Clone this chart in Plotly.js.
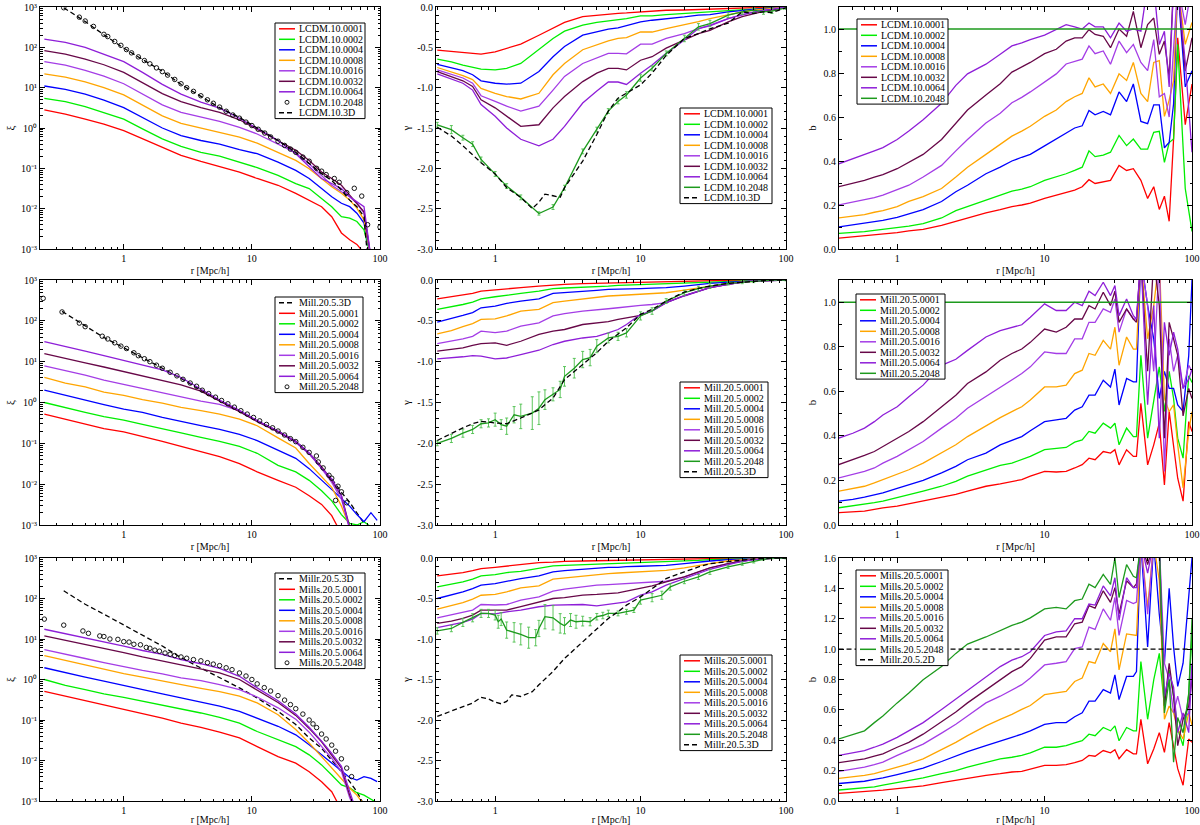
<!DOCTYPE html>
<html>
<head>
<meta charset="utf-8">
<script src="https://cdn.plot.ly/plotly-3.0.1.min.js"></script>
<style>
  body{margin:0;background:#fff}
  #chart{width:1200px;height:825px}
</style>
</head>
<body>
<div id="chart"></div>
<script>
"use strict"

// ---------- radial bins ----------
const rXi = [0.24,0.35,0.5,0.7,1,1.4,2,2.8,4,5.6,8,11,16,22,28,35,42,50,58,66,75,85,95]
const rGam = [0.4,0.5,0.6,0.7,0.8,1,1.2,1.5,2,2.5,3,4,5,6,7,8,10,12,15,20,25,30,40,50,60,70,80,100]
const rB = [0.4,0.5,0.6,0.7,0.8,1,1.2,1.5,2,2.5,3,4,5,6,7,8,10,12,14,16,18,20,22,25,28,32,36,40,45,50,55,60,65,70,75,80,90,100]
const rB6 = [0.4,0.5,0.6,0.7,0.8,1,1.2,1.5,2,2.5,3,4,5,6,7,8,10,12,14,16,18,20,22,25,28,30,32,36,40,42,45,50,55,60,65,70,75,80,87,95,100]
const rFlat = [0.4,100]

// ---------- LCDM.10 : xi ----------
const xiL_0001 = [2.8,2.2,1.66,1.25,0.86,0.54,0.32,0.21,0.149,0.112,0.081,0.056,0.038,0.024,0.0163,0.0112,0.0063,0.0025,0.0017,0.0013,0.0008]
const xiL_0002 = [5.4,4.5,3.4,2.43,1.66,0.95,0.54,0.35,0.25,0.2,0.143,0.104,0.067,0.042,0.0315,0.018,0.0112,0.0063,0.0058,0.0048,0.003,0.0006]
const xiL_0004 = [11,9.1,6.9,4.9,3.2,1.83,1.0,0.65,0.49,0.4,0.29,0.23,0.143,0.089,0.056,0.0315,0.0198,0.0136,0.0112,0.0077,0.0044,0.0006]
const xiL_0008 = [22,18.3,14,10,6.6,3.75,2.0,1.3,1.0,0.78,0.59,0.42,0.25,0.157,0.098,0.056,0.035,0.024,0.0163,0.0103,0.0053,0.0006]
const xiL_0016 = [44,36,27,19.4,12.5,7.1,3.75,2.43,1.83,1.46,1.04,0.71,0.4,0.24,0.13,0.067,0.038,0.0263,0.0198,0.0136,0.0077,0.0006]
const xiL_0032 = [83,68,51,37,24,13.2,7.1,4.5,3.2,2.43,1.6,0.92,0.49,0.28,0.157,0.081,0.056,0.038,0.0216,0.0136,0.0084,0.0006]
const xiL_0064 = [160,133,100,68,44,24,12.1,6.9,4.4,3.1,1.75,0.98,0.49,0.23,0.108,0.056,0.042,0.0315,0.0198,0.015,0.0112,0.0006]
const rDashL = [0.34,0.5,0.7,1,1.4,2,2.8,4,5.6,8,11,16,22,28,35,42,50,58,66,75,80]
const xiL_3D = [960,436,205,96,50,25.7,12.1,6.2,3.2,1.83,1.0,0.49,0.25,0.13,0.074,0.05,0.029,0.0163,0.0112,0.0063,0.0006]
const rCircL = [0.34,0.45,0.5,0.58,0.7,0.75,0.85,0.95,1.05,1.15,1.3,1.45,1.6,1.8,2.0,2.2,2.5,2.8,3.1,3.5,4.0,4.5,5.0,5.6,6.3,7.1,8.0,9.0,10,11.2,12.6,14,16,18,20,22,25,28,32,35,38,44,48,55,63,72,80,100]
const xiL_2048 = [960,560,450,330,210,185,140,112,88,73,58,47,39,31,25,20.5,16,12.5,10,8.1,6.3,5.0,4.1,3.3,2.6,2.1,1.75,1.4,1.15,0.93,0.75,0.6,0.47,0.37,0.3,0.25,0.19,0.15,0.1,0.085,0.07,0.056,0.045,0.025,0.032,0.0205,0.004,0.0035]

// ---------- LCDM.10 : gamma ----------
const gamL_0001 = [-0.534,-0.55,-0.567,-0.575,-0.583,-0.555,-0.51,-0.46,-0.35,-0.26,-0.19,-0.12,-0.10,-0.086,-0.078,-0.074,-0.062,-0.05,-0.04,-0.037,-0.03,-0.03,-0.02,-0.012,-0.012,-0.004,-0.004,0]
const gamL_0002 = [-0.645,-0.68,-0.72,-0.75,-0.77,-0.78,-0.76,-0.70,-0.53,-0.39,-0.30,-0.226,-0.19,-0.17,-0.15,-0.144,-0.11,-0.11,-0.094,-0.08,-0.06,-0.053,-0.04,-0.03,-0.02,-0.012,-0.012,0]
const gamL_0004 = [-0.71,-0.75,-0.79,-0.84,-0.915,-0.945,-0.957,-0.945,-0.80,-0.616,-0.49,-0.35,-0.31,-0.275,-0.26,-0.234,-0.185,-0.164,-0.15,-0.123,-0.10,-0.094,-0.06,-0.04,-0.03,-0.02,-0.012,0]
const gamL_0008 = [-0.75,-0.80,-0.85,-0.90,-1.01,-1.07,-1.11,-1.14,-1.07,-0.84,-0.70,-0.53,-0.47,-0.42,-0.39,-0.38,-0.31,-0.31,-0.267,-0.22,-0.18,-0.144,-0.094,-0.06,-0.04,-0.03,-0.02,0]
const gamL_0016 = [-0.78,-0.83,-0.88,-0.945,-1.10,-1.17,-1.23,-1.29,-1.23,-1.03,-0.86,-0.70,-0.63,-0.575,-0.575,-0.58,-0.46,-0.46,-0.39,-0.33,-0.267,-0.226,-0.144,-0.094,-0.06,-0.04,-0.03,0]
const gamL_0032 = [-0.80,-0.86,-0.915,-0.985,-1.15,-1.25,-1.355,-1.48,-1.46,-1.25,-1.11,-0.925,-0.82,-0.76,-0.76,-0.78,-0.66,-0.616,-0.51,-0.41,-0.33,-0.29,-0.185,-0.12,-0.08,-0.053,-0.04,0]
const gamL_0064 = [-0.83,-0.89,-0.945,-1.03,-1.21,-1.355,-1.50,-1.64,-1.72,-1.64,-1.48,-1.19,-1.04,-0.93,-0.93,-0.96,-0.82,-0.72,-0.575,-0.41,-0.267,-0.234,-0.144,-0.094,-0.06,-0.04,-0.03,0]
const gamL_2048 = [-1.46,-1.52,-1.62,-1.70,-1.89,-2.07,-2.22,-2.36,-2.56,-2.48,-2.24,-1.79,-1.52,-1.29,-1.17,-1.09,-0.88,-0.76,-0.575,-0.39,-0.246,-0.205,-0.10,-0.06,-0.04,-0.06,-0.05,-0.01]
const errL_2048 = [0.03,0.05,0.03,0.03,0.03,0.03,0.03,0.03,0.02,0.03,0.03,0.03,0.03,0.03,0.03,0.04,0.04,0.03,0.03,0.04,0.04,0.04,0.03,0.03,0.03,0.03,0.03,0.02]
const rGamDashL = [0.4,0.5,0.6,0.7,0.8,1,1.2,1.5,1.8,2.0,2.2,2.5,2.8,3,4,5,6,7,8,10,12,15,20,25,30,40,50,60,70,80,100]
const gamL_3D = [-1.49,-1.60,-1.72,-1.83,-1.93,-2.07,-2.24,-2.36,-2.5,-2.42,-2.32,-2.34,-2.36,-2.24,-1.91,-1.58,-1.29,-1.13,-1.07,-0.965,-0.82,-0.60,-0.39,-0.33,-0.27,-0.2,-0.06,-0.08,-0.06,-0.07,-0.01]

// ---------- LCDM.10 : bias ----------
const bL_0001 = [0.049,0.055,0.06,0.064,0.067,0.074,0.082,0.089,0.107,0.126,0.141,0.164,0.179,0.193,0.20,0.208,0.23,0.245,0.257,0.268,0.283,0.315,0.298,0.305,0.312,0.38,0.357,0.365,0.312,0.23,0.283,0.18,0.24,0.126,0.5,0.96,0.565,0.75]
const bL_0002 = [0.071,0.074,0.079,0.085,0.089,0.097,0.104,0.115,0.141,0.174,0.193,0.223,0.245,0.263,0.272,0.283,0.312,0.327,0.342,0.357,0.372,0.446,0.42,0.427,0.44,0.516,0.47,0.50,0.454,0.454,0.53,0.535,0.394,0.484,0.50,0.93,0.275,0.08]
const bL_0004 = [0.10,0.109,0.115,0.124,0.13,0.144,0.159,0.179,0.216,0.26,0.29,0.342,0.372,0.40,0.417,0.43,0.469,0.50,0.528,0.55,0.56,0.63,0.61,0.625,0.61,0.714,0.67,0.75,0.58,0.57,0.655,0.655,0.46,0.484,0.66,1.2,0.737,0.81]
const bL_0008 = [0.141,0.149,0.156,0.167,0.174,0.193,0.216,0.238,0.275,0.327,0.372,0.43,0.476,0.513,0.536,0.558,0.603,0.632,0.67,0.692,0.707,0.778,0.737,0.75,0.707,0.796,0.766,0.848,0.707,0.67,0.848,0.856,0.603,0.677,0.766,1.2,0.93,1.03]
const bL_0016 = [0.20,0.213,0.223,0.234,0.245,0.268,0.29,0.327,0.38,0.446,0.498,0.573,0.617,0.665,0.689,0.714,0.759,0.796,0.841,0.853,0.863,0.923,0.888,0.90,0.84,0.945,0.893,0.93,0.848,0.811,0.952,0.692,0.707,0.60,0.96,1.2,1.02,1.2]
const bL_0032 = [0.283,0.298,0.312,0.327,0.338,0.365,0.394,0.43,0.498,0.573,0.632,0.70,0.751,0.804,0.826,0.848,0.888,0.908,0.945,0.96,0.96,0.997,0.975,0.967,0.915,1.0,0.967,1.08,0.915,1.02,1.05,0.885,0.945,0.78,1.2,1.2,0.81,0.96]
const bL_0064 = [0.387,0.41,0.427,0.446,0.461,0.498,0.536,0.588,0.662,0.744,0.796,0.84,0.885,0.923,0.937,0.952,0.972,0.997,1.02,1.01,1.0,1.027,1.01,1.01,0.96,1.027,0.99,1.0,0.99,1.2,1.2,0.93,0.99,0.737,1.2,1.2,0.85,0.44]
const bL_2048 = [1,1]

// ---------- Mill.20.5 : xi ----------
const xiM_0001 = [0.52,0.39,0.29,0.23,0.19,0.15,0.112,0.084,0.063,0.047,0.032,0.020,0.0124,0.0084,0.0052,0.0032,0.0017,0.0006]
const xiM_0002 = [1.0,0.74,0.57,0.45,0.37,0.29,0.23,0.18,0.14,0.112,0.084,0.057,0.029,0.020,0.0124,0.0069,0.0039,0.0018,0.0011,0.001,0.0012,0.0009]
const xiM_0004 = [2.0,1.5,1.12,0.89,0.69,0.57,0.43,0.34,0.27,0.22,0.165,0.117,0.069,0.043,0.024,0.0124,0.0076,0.0043,0.0029,0.0018,0.0012,0.002,0.0013]
const xiM_0008 = [4.1,3.0,2.4,1.8,1.5,1.17,0.96,0.76,0.63,0.52,0.39,0.27,0.136,0.077,0.032,0.015,0.0084,0.0029,0.0009,0.0005]
const xiM_0016 = [7.9,6.1,4.7,3.55,2.8,2.2,1.7,1.36,1.08,0.9,0.62,0.36,0.19,0.105,0.055,0.024,0.011,0.0043,0.0008]
const xiM_0032 = [15.8,12.3,9.3,7.4,5.7,4.5,3.55,2.7,1.9,1.1,0.6,0.34,0.19,0.11,0.057,0.027,0.0124,0.0052,0.0009]
const xiM_0064 = [31,23,18,14,10.8,8.4,6.3,4.1,2.1,1.15,0.64,0.36,0.2,0.112,0.058,0.025,0.0135,0.0052,0.0008]
const rDashM = [0.33,0.5,0.7,1,1.4,2,2.8,4,5.6,8,11,16,22,28,35,42,50,58,66,75]
const xiM_3D = [170,74,39,22,12.3,6.9,3.9,2.0,1.12,0.62,0.355,0.2,0.112,0.057,0.024,0.0135,0.0063,0.0036,0.002,0.0011]
const rCircM = [0.235,0.33,0.45,0.5,0.68,0.75,0.85,0.95,1.05,1.2,1.3,1.45,1.6,1.8,2.0,2.3,2.6,2.9,3.3,3.7,4.1,4.6,5.2,5.8,6.5,7.3,8.2,9.2,10.3,11.5,13,14.5,16,18,20,22,25,28,31.9,33,36,40,42,45,47,50,55]
const xiM_2048 = [355,165,88,72,42,36,29,24,21,16.5,14,11.8,10,8.2,6.9,5.5,4.5,3.7,3.0,2.5,2.0,1.65,1.35,1.12,0.93,0.77,0.63,0.52,0.43,0.355,0.29,0.24,0.2,0.16,0.13,0.11,0.08,0.06,0.049,0.035,0.025,0.0165,0.014,0.004,0.0089,0.0065,0.0035]

// ---------- Mill.20.5 : gamma ----------
const gamM_0001 = [-0.23,-0.205,-0.19,-0.164,-0.135,-0.123,-0.106,-0.094,-0.074,-0.061,-0.053,-0.045,-0.041,-0.033,-0.033,-0.029,-0.025,-0.02,-0.016,-0.012,-0.008,-0.008,-0.004,-0.004,-0.004,0,0,0]
const gamM_0002 = [-0.36,-0.33,-0.30,-0.27,-0.23,-0.205,-0.19,-0.164,-0.135,-0.106,-0.098,-0.09,-0.082,-0.074,-0.065,-0.061,-0.057,-0.053,-0.049,-0.041,-0.033,-0.025,-0.016,-0.012,-0.008,-0.004,0,0]
const gamM_0004 = [-0.515,-0.475,-0.434,-0.40,-0.34,-0.32,-0.287,-0.258,-0.23,-0.164,-0.156,-0.135,-0.127,-0.115,-0.115,-0.106,-0.106,-0.10,-0.094,-0.074,-0.053,-0.041,-0.025,-0.016,-0.012,-0.008,-0.004,0]
const gamM_0008 = [-0.66,-0.62,-0.57,-0.535,-0.483,-0.475,-0.44,-0.38,-0.36,-0.278,-0.258,-0.23,-0.217,-0.196,-0.19,-0.185,-0.176,-0.168,-0.156,-0.123,-0.094,-0.074,-0.041,-0.025,-0.012,-0.008,-0.004,0]
const gamM_0016 = [-0.78,-0.75,-0.72,-0.69,-0.626,-0.645,-0.626,-0.565,-0.524,-0.44,-0.413,-0.38,-0.368,-0.352,-0.34,-0.327,-0.31,-0.30,-0.278,-0.196,-0.135,-0.094,-0.053,-0.025,-0.012,-0.008,-0.004,0]
const gamM_0032 = [-0.87,-0.85,-0.83,-0.80,-0.78,-0.77,-0.80,-0.75,-0.667,-0.626,-0.606,-0.545,-0.524,-0.51,-0.483,-0.463,-0.434,-0.38,-0.278,-0.19,-0.135,-0.094,-0.053,-0.025,-0.012,-0.008,-0.004,0]
const gamM_0064 = [-0.966,-0.955,-0.94,-0.925,-0.933,-0.966,-0.955,-0.913,-0.86,-0.79,-0.75,-0.71,-0.69,-0.647,-0.606,-0.545,-0.42,-0.38,-0.278,-0.19,-0.135,-0.094,-0.053,-0.025,-0.012,-0.008,-0.004,0]
const rGamFullM = [0.4,0.5,0.6,0.7,0.8,0.9,1.0,1.1,1.2,1.35,1.5,1.8,2.0,2.2,2.5,2.8,3,3.5,4,4.5,5,6,7,8,10,12,15,20,25,30,40,50,60,70,80,100]
const gamM_2048 = [-2.0,-1.94,-1.875,-1.83,-1.76,-1.75,-1.71,-1.77,-1.79,-1.65,-1.67,-1.63,-1.57,-1.465,-1.40,-1.34,-1.18,-1.08,-0.974,-0.95,-0.81,-0.71,-0.69,-0.647,-0.44,-0.38,-0.258,-0.156,-0.106,-0.074,-0.041,-0.025,-0.012,-0.004,0,0]
const errM_2048 = [0.03,0.05,0.05,0.05,0.05,0.05,0.08,0.06,0.1,0.1,0.15,0.2,0.2,0.12,0.08,0.1,0.12,0.12,0.1,0.1,0.08,0.06,0.05,0.05,0.05,0.04,0.03,0.03,0.03,0.03,0.02,0.02,0.02,0.01,0.01,0.01]
const gamM_3D = [-1.965,-1.875,-1.81,-1.76,-1.73,-1.75,-1.76,-1.69,-1.59,-1.445,-1.22,-1.035,-0.89,-0.75,-0.667,-0.585,-0.42,-0.36,-0.258,-0.147,-0.102,-0.074,-0.041,-0.025,-0.012,-0.004,0,0]

// ---------- Mill.20.5 : bias ----------
const bM_0001 = [0.055,0.06,0.0625,0.07,0.077,0.085,0.095,0.107,0.122,0.137,0.152,0.174,0.185,0.196,0.204,0.219,0.241,0.238,0.241,0.256,0.271,0.30,0.293,0.33,0.323,0.338,0.27,0.338,0.308,0.308,0.546,0.27,0.36,0.457,0.18,0.51,0.36,0.21,0.107,0.464,0.42]
const bM_0002 = [0.077,0.085,0.092,0.10,0.107,0.122,0.134,0.152,0.174,0.196,0.219,0.248,0.268,0.278,0.293,0.308,0.338,0.345,0.348,0.372,0.382,0.42,0.412,0.457,0.435,0.457,0.36,0.435,0.397,0.397,0.762,0.39,0.568,0.71,0.51,0.69,0.568,0.39,0.30,0.67,0.64]
const bM_0004 = [0.107,0.115,0.125,0.134,0.144,0.164,0.18,0.20,0.234,0.263,0.293,0.323,0.36,0.382,0.397,0.423,0.464,0.472,0.479,0.516,0.531,0.583,0.583,0.65,0.62,0.70,0.539,0.658,0.643,0.643,1.2,0.985,0.836,0.568,0.69,0.613,0.613,0.539,0.51,0.76,1.1]
const bM_0008 = [0.152,0.164,0.174,0.189,0.204,0.226,0.248,0.278,0.323,0.36,0.397,0.446,0.482,0.509,0.531,0.561,0.62,0.62,0.628,0.68,0.695,0.77,0.762,0.829,0.79,0.888,0.717,0.844,0.79,0.79,1.2,0.836,0.985,1.2,0.568,0.509,0.54,0.36,0.167,0.42,0.509]
const bM_0016 = [0.211,0.226,0.241,0.256,0.278,0.308,0.338,0.375,0.435,0.479,0.524,0.576,0.62,0.65,0.68,0.71,0.777,0.77,0.77,0.836,0.836,0.91,0.91,0.97,0.955,1.015,0.866,0.97,0.925,0.925,1.2,0.985,0.69,1.2,0.24,0.836,0.69,0.762,0.613,0.717,0.69]
const bM_0032 = [0.271,0.293,0.3125,0.33,0.353,0.39,0.42,0.464,0.531,0.583,0.635,0.6875,0.74,0.77,0.79,0.82,0.88,0.866,0.888,0.925,0.925,0.985,0.97,1.045,0.985,1.05,0.91,0.97,0.925,0.91,1.2,0.69,1.2,0.985,0.39,0.91,0.836,0.762,0.49,0.613,0.568]
const bM_0064 = [0.39,0.412,0.435,0.464,0.494,0.531,0.576,0.628,0.717,0.744,0.784,0.844,0.873,0.888,0.899,0.933,0.993,0.963,0.963,1.0,0.985,1.05,1.03,1.09,1.03,1.075,0.94,1.015,0.94,0.925,1.2,0.54,0.985,0.39,0.91,0.762,0.866,0.79,0.613,0.655,0.70]
const bM_2048 = [1,1]

// ---------- Mills.20.5 : xi ----------
const xiS_0001 = [0.51,0.39,0.31,0.24,0.19,0.15,0.112,0.084,0.066,0.050,0.036,0.022,0.0125,0.0086,0.0053,0.003,0.0017,0.0006]
const xiS_0002 = [1.0,0.72,0.56,0.44,0.36,0.29,0.24,0.187,0.149,0.116,0.084,0.052,0.032,0.022,0.0138,0.0078,0.0044,0.0025,0.0021,0.0016,0.0014,0.0011,0.0009]
const xiS_0004 = [1.95,1.46,1.14,0.91,0.72,0.56,0.44,0.35,0.28,0.22,0.164,0.112,0.07,0.043,0.0245,0.0138,0.0086,0.0053,0.0038,0.0033,0.004,0.0036,0.003]
const xiS_0008 = [3.9,2.96,2.27,1.77,1.4,1.14,0.91,0.72,0.6,0.5,0.39,0.264,0.135,0.058,0.027,0.0125,0.0065,0.0036,0.0021,0.0014,0.0008]
const xiS_0016 = [5.5,4.3,3.3,2.6,2.06,1.67,1.38,1.1,0.94,0.75,0.56,0.37,0.2,0.105,0.05,0.022,0.0114,0.0053,0.0012,0.0005]
const xiS_0032 = [11.9,9.3,7.4,5.8,4.6,3.6,2.85,2.27,1.84,1.46,1.0,0.55,0.27,0.13,0.062,0.029,0.0138,0.0065,0.0014,0.0005]
const xiS_0064 = [17.4,13.6,10.8,8.6,6.7,5.2,4.2,3.1,2.45,1.87,1.2,0.62,0.3,0.14,0.066,0.03,0.015,0.0072,0.0016,0.0005]
const rDashS = [0.34,0.5,0.7,1,1.4,2,2.8,4,5.6,8,11,16,22,28,35,42,50,58,66,75]
const xiS_3D = [155,72,41,22,11.9,6.7,3.45,1.95,1.1,0.62,0.35,0.164,0.077,0.036,0.02,0.0104,0.0053,0.003,0.0017,0.0008]
const rCircS = [0.24,0.34,0.48,0.53,0.65,0.7,0.78,0.9,1.0,1.1,1.2,1.35,1.5,1.6,1.75,1.9,2.1,2.3,2.5,2.8,3.1,3.5,4,4.5,5,5.6,6.3,7,8,9,10,11,12.5,14,16,18,20,22,25,28,30,32,35,38,42,45,50,55,60]
const xiS_2048 = [31,22,15.8,13.8,11.9,11.5,10,9.8,8.6,8.4,7.4,7.2,6.2,5.9,5.3,5.0,4.5,4.2,3.9,3.6,3.35,3.1,2.9,2.6,2.4,2.2,1.95,1.75,1.45,1.22,1.0,0.78,0.63,0.52,0.4,0.31,0.24,0.19,0.14,0.1,0.08,0.065,0.045,0.034,0.024,0.017,0.011,0.0065,0.004]

// ---------- Mills.20.5 : gamma ----------
const gamS_0001 = [-0.22,-0.2,-0.18,-0.156,-0.13,-0.115,-0.1,-0.082,-0.057,-0.05,-0.041,-0.037,-0.033,-0.029,-0.029,-0.025,-0.025,-0.02,-0.016,-0.012,-0.008,-0.008,-0.004,-0.004,0,0,0,0]
const gamS_0002 = [-0.357,-0.328,-0.295,-0.262,-0.22,-0.205,-0.18,-0.164,-0.131,-0.098,-0.09,-0.082,-0.074,-0.07,-0.066,-0.061,-0.057,-0.053,-0.049,-0.037,-0.029,-0.02,-0.012,-0.008,-0.004,0,0,0]
const gamS_0004 = [-0.5,-0.46,-0.418,-0.377,-0.336,-0.316,-0.287,-0.254,-0.22,-0.172,-0.156,-0.14,-0.123,-0.115,-0.115,-0.106,-0.102,-0.098,-0.09,-0.07,-0.049,-0.037,-0.02,-0.012,-0.008,-0.004,0,0]
const gamS_0008 = [-0.63,-0.59,-0.55,-0.508,-0.46,-0.45,-0.418,-0.369,-0.344,-0.262,-0.246,-0.22,-0.205,-0.193,-0.185,-0.18,-0.172,-0.164,-0.152,-0.123,-0.09,-0.07,-0.037,-0.02,-0.012,-0.008,-0.004,0]
const gamS_0016 = [-0.74,-0.705,-0.676,-0.643,-0.574,-0.58,-0.574,-0.52,-0.48,-0.41,-0.385,-0.357,-0.336,-0.328,-0.32,-0.316,-0.303,-0.295,-0.287,-0.234,-0.172,-0.123,-0.07,-0.037,-0.02,-0.008,-0.004,0]
const gamS_0032 = [-0.807,-0.78,-0.746,-0.705,-0.643,-0.64,-0.643,-0.6,-0.541,-0.5,-0.49,-0.459,-0.45,-0.443,-0.43,-0.41,-0.377,-0.344,-0.295,-0.234,-0.172,-0.123,-0.07,-0.037,-0.02,-0.008,-0.004,0]
const gamS_0064 = [-0.86,-0.828,-0.795,-0.754,-0.684,-0.69,-0.664,-0.643,-0.602,-0.582,-0.582,-0.574,-0.59,-0.574,-0.56,-0.541,-0.459,-0.418,-0.336,-0.254,-0.193,-0.139,-0.082,-0.041,-0.02,-0.008,-0.004,0]
const rGamFullS = [0.4,0.5,0.6,0.7,0.8,0.9,1.0,1.05,1.1,1.2,1.35,1.5,1.7,1.9,2.0,2.2,2.5,2.8,3.0,3.3,3.6,4,4.5,5,5.5,6,7,8,9,10,12,14,16,20,25,30,40,50,60,70,80,100]
const gamS_2048 = [-0.9,-0.87,-0.795,-0.738,-0.684,-0.684,-0.705,-0.787,-0.754,-0.89,-0.918,-0.943,-0.984,-0.984,-0.87,-0.725,-0.738,-0.807,-0.836,-0.766,-0.787,-0.779,-0.787,-0.725,-0.71,-0.684,-0.684,-0.664,-0.643,-0.52,-0.49,-0.46,-0.357,-0.287,-0.234,-0.172,-0.11,-0.07,-0.041,-0.016,0,0]
const errS_2048 = [0.04,0.04,0.05,0.05,0.05,0.05,0.06,0.08,0.08,0.1,0.12,0.13,0.13,0.1,0.1,0.15,0.15,0.12,0.1,0.08,0.08,0.06,0.05,0.04,0.04,0.04,0.03,0.03,0.03,0.05,0.05,0.05,0.04,0.03,0.03,0.03,0.02,0.02,0.02,0.01,0.01,0.01]
const rGamDashS = [0.4,0.5,0.6,0.7,0.8,0.9,1.0,1.1,1.2,1.3,1.5,1.8,2.0,2.5,3,4,5,6,7,8,10,12,15,20,25,30,40,50,60,70,80,100]
const gamS_3D = [-1.955,-1.89,-1.83,-1.79,-1.72,-1.74,-1.78,-1.8,-1.77,-1.69,-1.71,-1.65,-1.565,-1.4,-1.24,-1.03,-0.87,-0.746,-0.664,-0.582,-0.48,-0.377,-0.254,-0.172,-0.11,-0.07,-0.041,-0.025,-0.012,-0.004,0,0]

// ---------- Mills.20.5 : bias ----------
const bS_0001 = [0.05,0.056,0.061,0.065,0.072,0.082,0.089,0.1,0.121,0.137,0.152,0.169,0.18,0.191,0.195,0.208,0.234,0.234,0.239,0.252,0.267,0.3,0.295,0.332,0.317,0.338,0.278,0.338,0.31,0.31,0.538,0.245,0.343,0.45,0.32,0.516,0.364,0.213,0.104,0.408,0.386]
const bS_0002 = [0.072,0.082,0.087,0.093,0.104,0.121,0.137,0.152,0.18,0.2,0.223,0.256,0.278,0.288,0.3,0.317,0.354,0.354,0.364,0.382,0.397,0.44,0.43,0.484,0.462,0.495,0.397,0.484,0.462,0.462,0.918,0.538,0.798,0.972,0.625,0.863,0.69,0.473,0.364,0.71,1.1]
const bS_0004 = [0.115,0.121,0.13,0.143,0.152,0.174,0.195,0.217,0.26,0.295,0.325,0.364,0.397,0.419,0.44,0.462,0.505,0.516,0.516,0.555,0.581,0.657,0.657,0.733,0.711,0.83,0.668,0.82,0.82,0.852,1.7,1.015,1.7,1.23,0.907,1.4,1.015,0.755,0.907,1.34,1.6]
const bS_0008 = [0.148,0.158,0.169,0.18,0.195,0.223,0.245,0.278,0.338,0.386,0.43,0.495,0.538,0.57,0.603,0.629,0.7,0.711,0.722,0.787,0.81,0.918,0.907,1.037,0.983,1.134,0.863,1.1,1.09,1.09,1.7,1.275,1.7,1.45,0.538,0.625,0.58,0.473,0.408,0.58,0.5]
const bS_0016 = [0.195,0.208,0.223,0.239,0.256,0.3,0.332,0.375,0.447,0.505,0.56,0.646,0.69,0.733,0.766,0.81,0.896,0.907,0.918,1.004,1.015,1.145,1.13,1.265,1.19,1.34,1.09,1.32,1.3,1.31,1.7,1.23,1.7,1.7,0.907,0.8,0.58,0.69,0.538,0.58,0.907]
const bS_0032 = [0.252,0.267,0.278,0.295,0.31,0.354,0.386,0.44,0.52,0.586,0.646,0.733,0.798,0.852,0.885,0.939,1.059,1.08,1.08,1.167,1.178,1.286,1.27,1.384,1.308,1.405,1.232,1.45,1.405,1.43,1.7,1.557,1.7,1.62,0.625,0.907,0.69,0.364,0.538,0.625,0.8]
const bS_0064 = [0.3,0.317,0.332,0.354,0.375,0.419,0.462,0.516,0.603,0.672,0.733,0.82,0.885,0.928,0.95,0.983,1.09,1.113,1.12,1.2,1.2,1.297,1.29,1.416,1.351,1.47,1.19,1.47,1.405,1.405,1.7,1.5,1.7,1.7,0.69,0.84,0.75,0.45,0.58,0.45,0.9]
const bS_2048 = [0.408,0.44,0.462,0.516,0.56,0.646,0.711,0.798,0.885,0.972,1.033,1.08,1.124,1.156,1.178,1.206,1.265,1.275,1.265,1.319,1.33,1.427,1.405,1.492,1.427,1.6,1.34,1.557,1.48,1.47,1.7,1.7,1.7,1.7,0.58,0.8,0.256,0.55,0.45,0.7,1.2]
const bS_2D = [1,1]

// ---------- styles ----------
const FONT = "Liberation Serif, Times New Roman, serif"
const W = 1200, H = 825
const sampling = ['0001','0002','0004','0008','0016','0032','0064']
const samplingColor = ['#ff0000','#00ee00','#0000ff','#ffa500','#a43de6','#670748','#8e1ed8']
const fullColor = '#1d9a1d'
const errColor = '#4cc04c'

const colPx = [[40,380],[436,786],[839,1192]]
const rowPx = [[7,249],[280,525],[558,801]]
const colXRange = [[Math.log10(0.222),2],[Math.log10(0.392),2],[Math.log10(0.403),2]]

const axId = k => k===1 ? '' : String(k)

function samplingTraces(ax, prefix, r, curves){
  return curves.map((y,i)=>({
    type:'scatter', mode:'lines', name:prefix+sampling[i], x:r, y:y,
    line:{color:samplingColor[i], width:1.3},
    xaxis:'x'+axId(ax), yaxis:'y'+axId(ax),
  }))
}
function circleTrace(ax, name, r, y){
  return {type:'scatter', mode:'markers', name, x:r, y,
    marker:{symbol:'circle-open', size:4.5, color:'black', line:{width:0.9, color:'black'}},
    xaxis:'x'+axId(ax), yaxis:'y'+axId(ax)}
}
function dashTrace(ax, name, r, y){
  return {type:'scatter', mode:'lines', name, x:r, y,
    line:{color:'black', width:1.3, dash:'5px,3px'},
    xaxis:'x'+axId(ax), yaxis:'y'+axId(ax)}
}
function fullTrace(ax, name, r, y, err){
  const t = {type:'scatter', mode:'lines', name, x:r, y,
    line:{color:fullColor, width:1.3},
    xaxis:'x'+axId(ax), yaxis:'y'+axId(ax)}
  if(err){
    t.error_y = {type:'data', array:err, visible:true, color:errColor, thickness:0.9, width:1.5}
  }
  return t
}

const panels = [
  {ax:1, legend:{left:275, top:23, width:90}, traces:[
    ...samplingTraces(1,'LCDM.10.',rXi,[xiL_0001,xiL_0002,xiL_0004,xiL_0008,xiL_0016,xiL_0032,xiL_0064]),
    circleTrace(1,'LCDM.10.2048',rCircL,xiL_2048),
    dashTrace(1,'LCDM.10.3D',rDashL,xiL_3D)]},
  {ax:2, legend:{left:680, top:108, width:92}, traces:[
    ...samplingTraces(2,'LCDM.10.',rGam,[gamL_0001,gamL_0002,gamL_0004,gamL_0008,gamL_0016,gamL_0032,gamL_0064]),
    fullTrace(2,'LCDM.10.2048',rGam,gamL_2048,errL_2048),
    dashTrace(2,'LCDM.10.3D',rGamDashL,gamL_3D)]},
  {ax:3, legend:{left:857, top:19, width:91}, traces:[
    ...samplingTraces(3,'LCDM.10.',rB,[bL_0001,bL_0002,bL_0004,bL_0008,bL_0016,bL_0032,bL_0064]),
    fullTrace(3,'LCDM.10.2048',rFlat,bL_2048)]},
  {ax:4, legend:{left:275, top:297, width:88}, traces:[
    dashTrace(4,'Mill.20.5.3D',rDashM,xiM_3D),
    ...samplingTraces(4,'Mill.20.5.',rXi,[xiM_0001,xiM_0002,xiM_0004,xiM_0008,xiM_0016,xiM_0032,xiM_0064]),
    circleTrace(4,'Mill.20.5.2048',rCircM,xiM_2048)]},
  {ax:5, legend:{left:680, top:382, width:88}, traces:[
    ...samplingTraces(5,'Mill.20.5.',rGam,[gamM_0001,gamM_0002,gamM_0004,gamM_0008,gamM_0016,gamM_0032,gamM_0064]),
    fullTrace(5,'Mill.20.5.2048',rGamFullM,gamM_2048,errM_2048),
    dashTrace(5,'Mill.20.5.3D',rGam,gamM_3D)]},
  {ax:6, legend:{left:856, top:294, width:89}, traces:[
    ...samplingTraces(6,'Mill.20.5.',rB6,[bM_0001,bM_0002,bM_0004,bM_0008,bM_0016,bM_0032,bM_0064]),
    fullTrace(6,'Mill.20.5.2048',rFlat,bM_2048)]},
  {ax:7, legend:{left:275, top:573, width:90}, traces:[
    dashTrace(7,'Millr.20.5.3D',rDashS,xiS_3D),
    ...samplingTraces(7,'Mills.20.5.',rXi,[xiS_0001,xiS_0002,xiS_0004,xiS_0008,xiS_0016,xiS_0032,xiS_0064]),
    circleTrace(7,'Mills.20.5.2048',rCircS,xiS_2048)]},
  {ax:8, legend:{left:680, top:655, width:92}, traces:[
    ...samplingTraces(8,'Mills.20.5.',rGam,[gamS_0001,gamS_0002,gamS_0004,gamS_0008,gamS_0016,gamS_0032,gamS_0064]),
    fullTrace(8,'Mills.20.5.2048',rGamFullS,gamS_2048,errS_2048),
    dashTrace(8,'Millr.20.5.3D',rGamDashS,gamS_3D)]},
  {ax:9, legend:{left:856, top:570, width:92}, traces:[
    ...samplingTraces(9,'Mills.20.5.',rB6,[bS_0001,bS_0002,bS_0004,bS_0008,bS_0016,bS_0032,bS_0064]),
    fullTrace(9,'Mills.20.5.2048',rB6,bS_2048),
    dashTrace(9,'Millr.20.5.2D',rFlat,bS_2D)]},
]

// ---------- layout ----------
const px = x => x/W
const py = y => 1 - y/H

function logMinor(lo, hi){
  const v = []
  for(let e=lo; e<hi; e++){
    for(let m=2; m<10; m++) v.push(m*Math.pow(10,e))
  }
  return v
}

const axisBase = {
  showline:true, linecolor:'black', linewidth:1, mirror:'allticks',
  ticks:'inside', ticklen:5, tickwidth:1, tickcolor:'black',
  showgrid:false, zeroline:false, fixedrange:true,
  ticklabeloverflow:'allow',
  tickfont:{family:FONT, size:10, color:'black'},
}
const minorBase = {ticks:'inside', ticklen:2.5, tickwidth:1, tickcolor:'black', showgrid:false}

const layout = {
  width:W, height:H, autosize:false,
  margin:{l:0, r:0, t:0, b:0},
  paper_bgcolor:'white', plot_bgcolor:'white',
  showlegend:false,
  font:{family:FONT, size:10, color:'black'},
  shapes:[], annotations:[],
}

const yTitles = ['ξ','γ','b']
const gamTicks = [-3,-2.5,-2,-1.5,-1,-0.5,0]
const xiTicks = [1e-3,1e-2,1e-1,1,10,100,1000]
const supDigit = {'-':'⁻','0':'⁰','1':'¹','2':'²','3':'³'}
const powerLabel = v => '10' + String(Math.round(Math.log10(v))).split('').map(c=>supDigit[c]).join('')

for(let k=1; k<=9; k++){
  const row = Math.floor((k-1)/3), col = (k-1)%3
  const xa = {
    ...axisBase, type:'log',
    domain:[px(colPx[col][0]), px(colPx[col][1])],
    range:colXRange[col], anchor:'y'+axId(k),
    tickmode:'array', tickvals:[1,10,100], ticktext:['1','10','100'],
    minor:{...minorBase, tickmode:'array', tickvals:logMinor(-1,2)},
    title:{text:'r [Mpc/h]', standoff:3, font:{family:FONT, size:10}},
  }
  const ya = {
    ...axisBase,
    domain:[py(rowPx[row][1]), py(rowPx[row][0])],
    anchor:'x'+axId(k),
    title:{text:yTitles[col], standoff:4, font:{family:FONT, size:11}},
  }
  if(col===0){
    Object.assign(ya, {type:'log', range:[-3,3], tickmode:'array', tickvals:xiTicks,
      ticktext:xiTicks.map(powerLabel),
      minor:{...minorBase, tickmode:'array', tickvals:logMinor(-3,3)}})
  } else if(col===1){
    Object.assign(ya, {type:'linear', range:[-3,0], tickmode:'array', tickvals:gamTicks,
      ticktext:gamTicks.map(v=>v.toFixed(1)),
      minor:{...minorBase, tickmode:'linear', tick0:0, dtick:0.1}})
  } else {
    const top = row<2 ? 1.1 : 1.6
    const tv = []
    for(let v=0; v<=top+1e-9; v+=0.2) tv.push(Math.round(v*10)/10)
    Object.assign(ya, {type:'linear', range:[0,top], tickmode:'array', tickvals:tv,
      ticktext:tv.map(v=>v.toFixed(1)),
      minor:{...minorBase, tickmode:'linear', tick0:0, dtick:0.1}})
  }
  layout['xaxis'+axId(k)] = xa
  layout['yaxis'+axId(k)] = ya
}

// legends drawn as boxed lists inside each panel
function drawLegend(box, traces){
  const rowH = 10.5, pad = 5.8
  const h = pad*2 + (traces.length-1)*rowH
  layout.shapes.push({type:'rect', xref:'paper', yref:'paper', layer:'above',
    x0:px(box.left), x1:px(box.left+box.width), y0:py(box.top), y1:py(box.top+h),
    line:{color:'black', width:1}, fillcolor:'white'})
  traces.forEach((t,i)=>{
    const yc = box.top + pad + i*rowH
    if(t.mode==='markers'){
      layout.shapes.push({type:'circle', xref:'paper', yref:'paper', layer:'above',
        x0:px(box.left+10), x1:px(box.left+14), y0:py(yc-2), y1:py(yc+2),
        line:{color:'black', width:0.9}, fillcolor:'white'})
    } else {
      layout.shapes.push({type:'line', xref:'paper', yref:'paper', layer:'above',
        x0:px(box.left+4), x1:px(box.left+20), y0:py(yc), y1:py(yc),
        line:{color:t.line.color, width:1.5, dash:t.line.dash||'solid'}})
    }
    layout.annotations.push({xref:'paper', yref:'paper', x:px(box.left+23), y:py(yc),
      xanchor:'left', yanchor:'middle', showarrow:false, borderpad:0,
      text:t.name, font:{family:FONT, size:10, color:'black'}})
  })
}

const data = []
panels.forEach(p=>{
  data.push(...p.traces)
  drawLegend(p.legend, p.traces)
})

Plotly.newPlot('chart', data, layout, {displayModeBar:false, staticPlot:true})
</script>
</body>
</html>
